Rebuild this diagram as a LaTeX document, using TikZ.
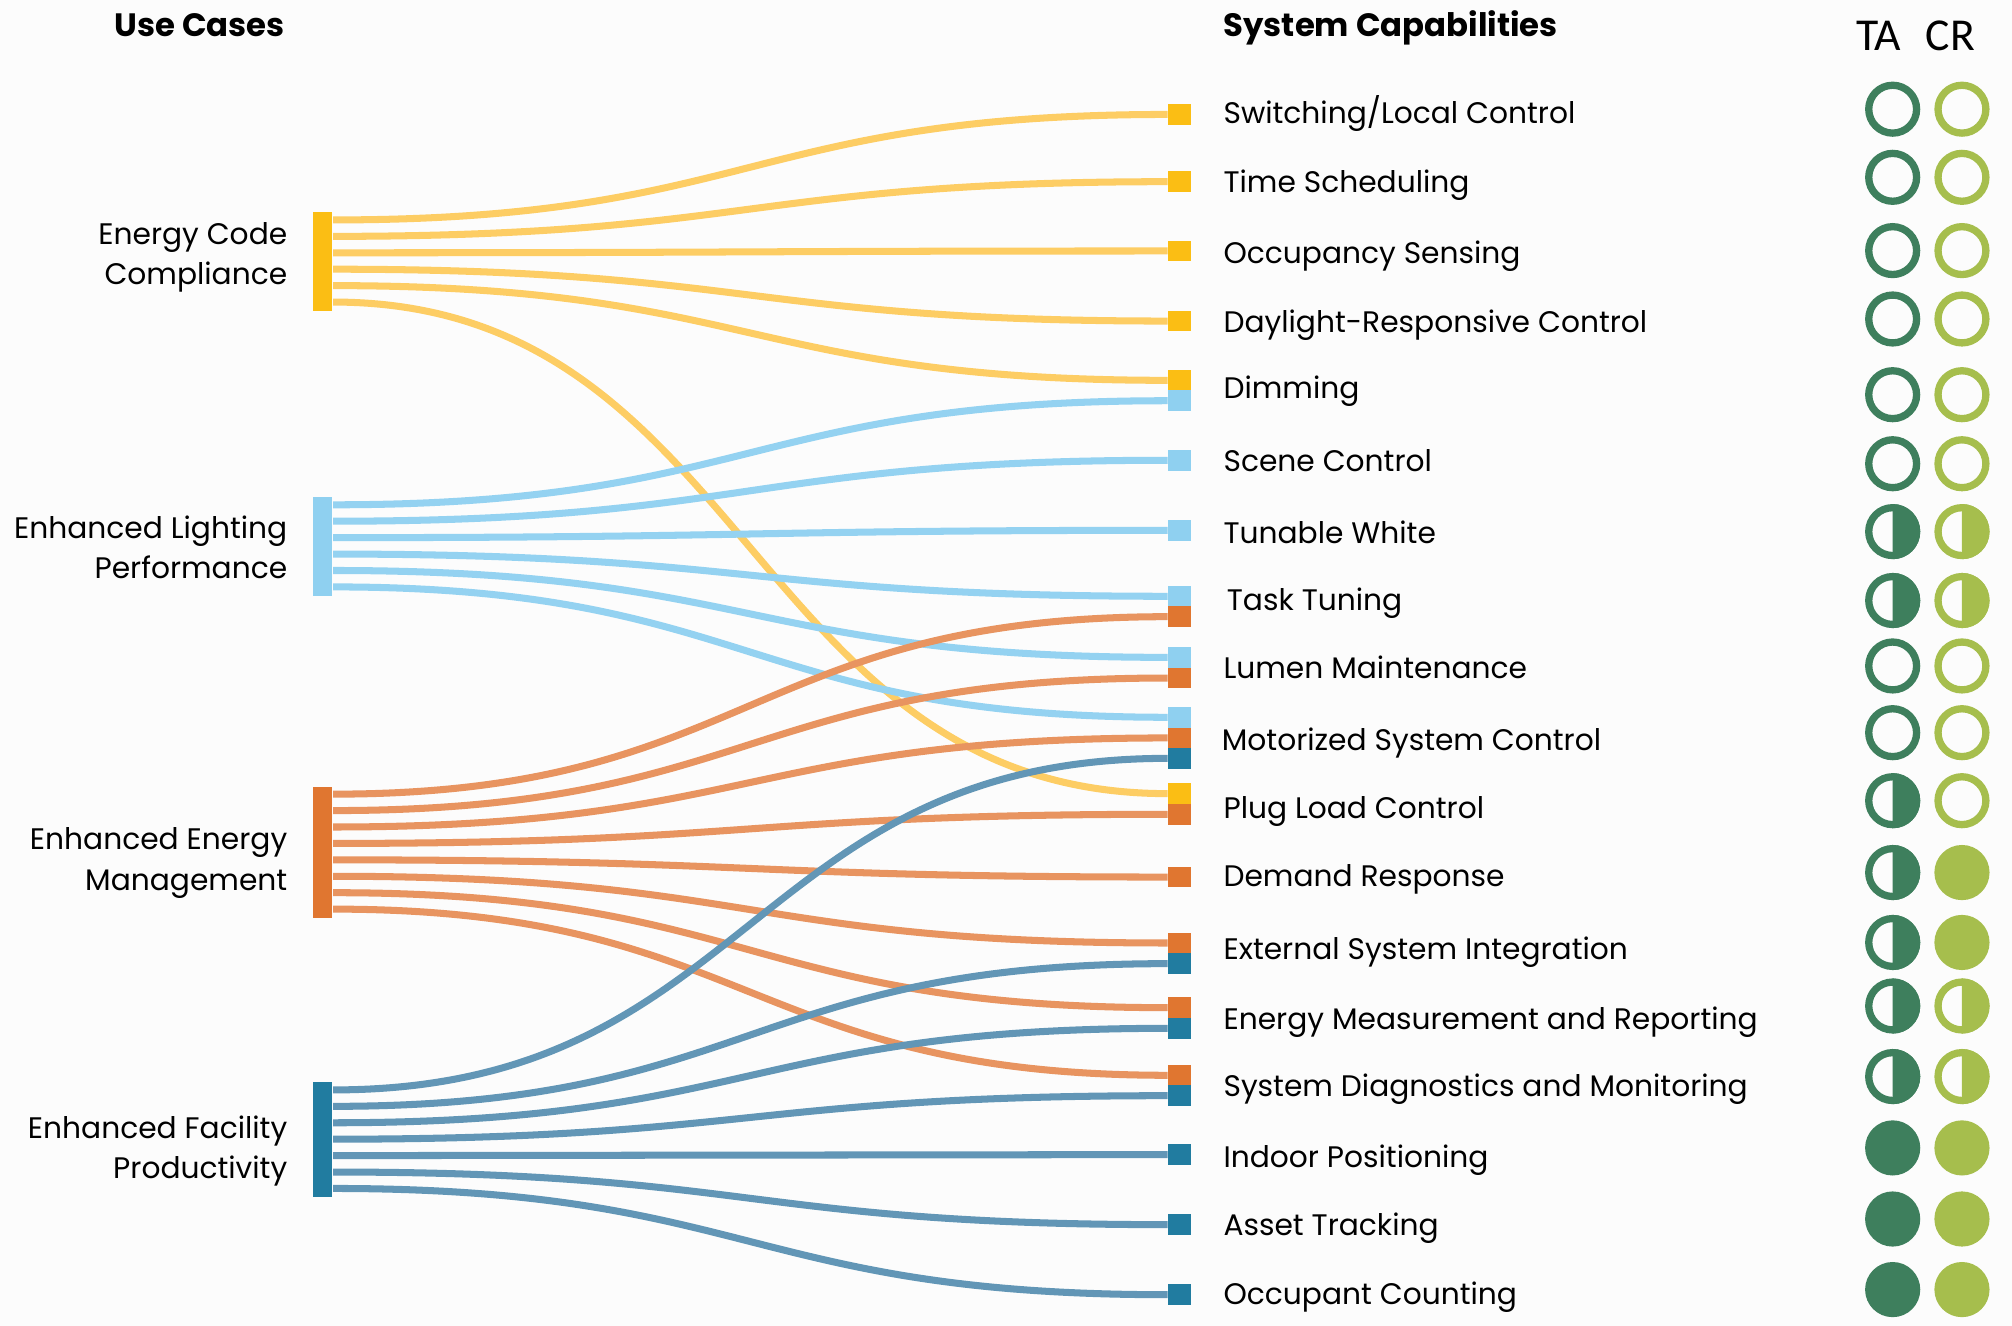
\documentclass[tikz,border=0pt]{standalone}
\usepackage{fontspec}
\setmainfont{Poppins}
\newfontfamily\colfont{Carlito}
\usepackage{tikz}
\usetikzlibrary{calc,positioning}
\usepackage{xcolor}
\definecolor{paper}{RGB}{252,252,252}
\definecolor{ecfill}{RGB}{251,190,20}
\definecolor{ecline}{RGB}{253,205,100}
\definecolor{lpfill}{RGB}{143,208,240}
\definecolor{lpline}{RGB}{148,210,241}
\definecolor{emfill}{RGB}{224,118,48}
\definecolor{emline}{RGB}{232,148,96}
\definecolor{fpfill}{RGB}{33,124,160}
\definecolor{fpline}{RGB}{98,150,182}
\definecolor{tagreen}{RGB}{62,127,93}
\definecolor{crgreen}{RGB}{166,190,77}

\tikzset{
  usebar/.style={fill=#1, minimum width=0.196cm, inner sep=0pt},
  capsq/.style={fill=#1, minimum width=0.231cm, minimum height=0.205cm, inner sep=0pt},
  link/.style={draw=#1, line width=2pt},
  uselabel/.style={anchor=base east, inner sep=0pt, font=\fontsize{8.45}{11}\selectfont},
  caplabel/.style={anchor=base west, inner sep=0pt, font=\fontsize{8.45}{11}\selectfont},
  heading/.style={inner sep=0pt, font=\fontsize{9.2}{11}\selectfont\bfseries},
  colhead/.style={anchor=base, inner sep=0pt, font=\colfont\fontsize{13}{14}\selectfont},
}

% rating dot: centre, colour, 0 = open, 1 = half, 2 = full
\newcommand{\rating}[3]{%
  \ifcase#3\relax
    \draw[#2, line width=2.08pt] #1 circle[radius=18.65];
  \or
    \fill[#2] #1 ++(0,-21.5) arc[start angle=-90, end angle=90, radius=21.5] -- cycle;
    \draw[#2, line width=2.08pt] #1 circle[radius=18.65];
  \or
    \fill[#2] #1 circle[radius=21.5];
  \fi}

\begin{document}
\begin{tikzpicture}[x=0.012832cm, y=-0.012832cm]
  \fill[paper] (0,0) rectangle (1568,1033);
  \useasboundingbox (0,0) rectangle (1568,1033);

  % headings
  \node[heading, anchor=base east] (usehead) at (222.5,28.6) {Use Cases};
  \node[heading, anchor=base west] (caphead) at (953,28.6) {System Capabilities};
  \node[colhead] (tahead) at (1464,39) {TA};
  \node[colhead] (crhead) at (1520,39) {CR};

  % use case bars, one exit point per link
  \foreach \nm/\top/\n in {ec/165/6, lp/387/6, em/612.5/8, fp/843/7}{
    \node[usebar=\nm fill, minimum height={\n*0.16425cm}, anchor=north] (\nm) at (251.4,\top) {};
    \foreach \i in {1,...,\n}
      \coordinate (\nm\i) at ($(\nm.north east)+(0,{12.8*(\i-0.5)})$);
  }

  % use case labels
  \foreach \nm/\la/\lb/\bl in {ec/Energy Code/Compliance/190.2,
      lp/Enhanced Lighting/Performance/419.5,
      em/Enhanced Energy/Management/662.4,
      fp/Enhanced Facility/Productivity/887.1}{
    \node[uselabel] (\nm-a) at (224.4,\bl) {\la};
    \node[uselabel] (\nm-b) at ($(\nm-a.base east)+(0,31.2)$) {\lb};
  }

  % links: exit point / end square height / group
  \foreach \src/\ty/\grp in {
      ec1/89.2/ec, ec2/141.6/ec, ec3/195.6/ec, ec4/250.2/ec, ec5/296.4/ec, ec6/618.5/ec,
      lp1/312.3/lp, lp2/358.7/lp, lp3/413.3/lp, lp4/464.7/lp, lp5/512.3/lp, lp6/559/lp,
      em1/480.6/em, em2/528.4/em, em3/575.1/em, em4/634.6/em, em5/683.5/em,
      em6/734.9/em, em7/785.3/em, em8/838/em,
      fp1/591/fp, fp2/751/fp, fp3/801.4/fp, fp4/853.9/fp, fp5/899.8/fp,
      fp6/954.4/fp, fp7/1009/fp}{
    \node[capsq=\grp fill] (t\src) at (919.5,\ty) {};
    \draw[link=\grp line] (\src) .. controls +(325.7,0) and +(-325.7,0) .. (t\src.west);
  }

  % capabilities with TA and CR ratings
  \foreach \txt/\bl/\cy/\ta/\cr/\dx [count=\k] in {
      {Switching/Local Control}/96.1/85.1/0/0/0,
      Time Scheduling/149.9/138.2/0/0/0,
      Occupancy Sensing/205.7/195.3/0/0/0,
      Daylight-Responsive Control/259/248.6/0/0/0,
      Dimming/310.9/307.6/0/0/0,
      Scene Control/367.1/361.4/0/0/0,
      Tunable White/423.4/414.3/1/1/0,
      Task Tuning/475.4/468/1/1/2.6,
      Lumen Maintenance/528.4/519/0/0/0,
      Motorized System Control/584.5/571/0/0/-1.3,
      Plug Load Control/637.5/624/1/0/0,
      Demand Response/691.2/680/1/2/0,
      External System Integration/748.1/734.5/1/2/0,
      Energy Measurement and Reporting/802.7/784/1/1/0,
      System Diagnostics and Monitoring/854.9/839/1/1/0,
      Indoor Positioning/909.5/894.6/2/2/0,
      Asset Tracking/963.2/950/2/2/0,
      Occupant Counting/1017/1005/2/2/0}{
    \node[caplabel] (cap\k) at (953+\dx,\bl) {\txt};
    \rating{(1475,\cy)}{tagreen}{\ta}
    \rating{(1529,\cy)}{crgreen}{\cr}
  }
\end{tikzpicture}
\end{document}
